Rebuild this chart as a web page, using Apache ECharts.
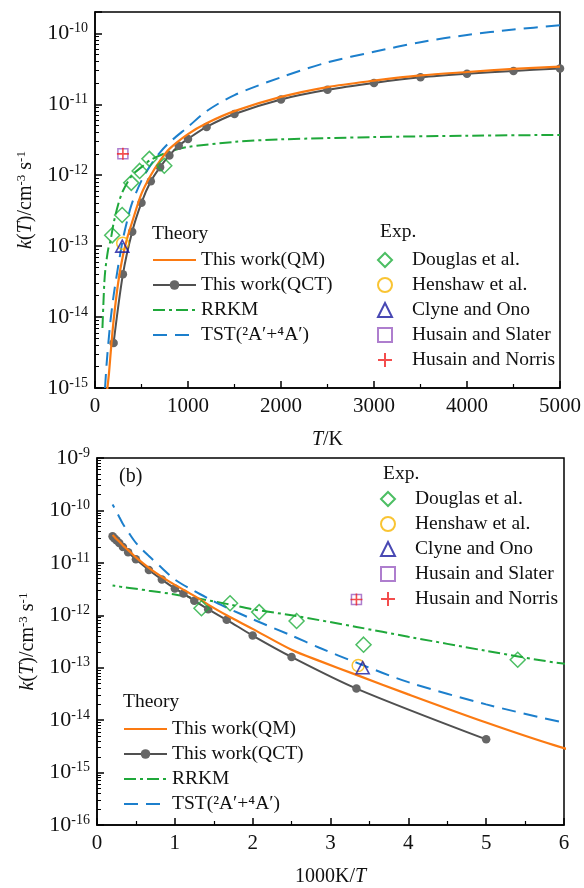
<!DOCTYPE html>
<html>
<head>
<meta charset="utf-8">
<script src="https://cdn.jsdelivr.net/npm/echarts@6/dist/echarts.min.js"></script>
<style>html,body{margin:0;padding:0;background:#fff;}#c{width:584px;height:888px;}</style>
</head>
<body>
<div id="c"></div>
<script>
// ---- data (T in K, k in cm^3 s^-1) ----
const T_QM  = [125,150,170,200,250,300,350,400,500,600,700,800,1000,1200,1500,2000,2500,3000,3500,4000,4500,5000];
const K_QM  = [8e-16,1.6e-15,3.3e-15,9.0e-15,3.1e-14,7.3e-14,1.35e-13,2.2e-13,5.5e-13,1.0e-12,1.6e-12,2.35e-12,3.8e-12,5.4e-12,8.0e-12,1.27e-11,1.75e-11,2.15e-11,2.55e-11,2.85e-11,3.15e-11,3.4e-11];
const T_QCT = [200,300,400,500,600,700,800,900,1000,1200,1500,2000,2500,3000,3500,4000,4500,5000];
const K_QCT = [4.3e-15,4.0e-14,1.6e-13,4.1e-13,8.2e-13,1.3e-12,1.9e-12,2.6e-12,3.25e-12,4.8e-12,7.3e-12,1.17e-11,1.6e-11,2.0e-11,2.4e-11,2.7e-11,2.95e-11,3.2e-11];
const T_RRKM = [80,90,100,110,125,145,167,200,250,300,400,500,600,800,1000,1500,2000,3000,4000,5000];
const K_RRKM = [7e-15,1.5e-14,3.0e-14,4.5e-14,6.5e-14,9.5e-14,1.2e-13,2.1e-13,3.9e-13,6.0e-13,1.0e-12,1.3e-12,1.65e-12,2.15e-12,2.5e-12,2.95e-12,3.2e-12,3.45e-12,3.6e-12,3.7e-12];
const T_TST = [108,125,145,167,200,250,300,350,400,500,600,700,800,1000,1200,1500,2000,2500,3000,3500,4000,4500,5000];
const K_TST = [1.0e-15,2.2e-15,4.5e-15,9.0e-15,2.0e-14,5.3e-14,1.25e-13,2.4e-13,4.1e-13,8.4e-13,1.4e-12,2.1e-12,2.9e-12,4.8e-12,8.0e-12,1.35e-11,2.4e-11,3.9e-11,5.5e-11,7.5e-11,9.5e-11,1.13e-10,1.3e-10];
const T_DOUGLAS = [185,292,390,480,585,745];
const K_DOUGLAS = [1.42e-13,2.75e-13,7.8e-13,1.15e-12,1.7e-12,1.36e-12];
const T_HENSHAW = [298], K_HENSHAW = [1.1e-13];
const T_CLYNE = [293],   K_CLYNE = [1.0e-13];
const T_SLATER = [300],  K_SLATER = [2.0e-12];
const T_NORRIS = [300],  K_NORRIS = [2.0e-12];

const X_TICKS_TOP = {min:0, max:5000, interval:1000};
const X_TICKS_BOT = {min:0, max:6, interval:1};
const Y_TOP = {min:1e-15, max:2e-10};
const Y_BOT = {min:1e-16, max:1e-9};

// ---- helpers ----
const FONT = 'Liberation Serif';
const pairsT = (T,K) => T.map((t,i)=>[t,K[i]]);
const pairsInv = (T,K) => T.map((t,i)=>[1000/t,K[i]]);

const C_QM='#fb7a12', C_QCT='#505050', C_RRKM='#1fa83a', C_TST='#1c7fcc';
const C_DOUG='#1fae3c', C_HEN='#f7b500', C_CLY='#1a1aa0', C_SLA='#9a5ec2', C_NOR='#f02020';

function seriesSet(gi, conv){
  return [
    {name:'This work(QM)', type:'line', xAxisIndex:gi, yAxisIndex:gi, data:conv(T_QM,K_QM), smooth:0.3, symbol:'none',
     lineStyle:{color:C_QM,width:2.2}, itemStyle:{color:C_QM}, z:5},
    {name:'This work(QCT)', type:'line', xAxisIndex:gi, yAxisIndex:gi, data:conv(T_QCT,K_QCT), smooth:0.3, symbol:'circle', symbolSize:8.5,
     lineStyle:{color:C_QCT,width:2}, itemStyle:{color:'#666'}, z:4},
    {name:'RRKM', type:'line', xAxisIndex:gi, yAxisIndex:gi, data:conv(T_RRKM,K_RRKM), smooth:0.3, symbol:'none',
     lineStyle:{color:C_RRKM,width:2,type:[12,4,3,4]}, itemStyle:{color:C_RRKM}, z:3},
    {name:'TST(²A′+⁴A′)', type:'line', xAxisIndex:gi, yAxisIndex:gi, data:conv(T_TST,K_TST), smooth:0.3, symbol:'none',
     lineStyle:{color:C_TST,width:2,type:[14,8]}, itemStyle:{color:C_TST}, z:3},
    {name:'Douglas et al.', type:'scatter', xAxisIndex:gi, yAxisIndex:gi, data:conv(T_DOUGLAS,K_DOUGLAS), symbol:'diamond', symbolSize:[15,15],
     itemStyle:{color:'rgba(0,0,0,0)', borderColor:C_DOUG, borderWidth:1.5}, z:6},
    {name:'Henshaw et al.', type:'scatter', xAxisIndex:gi, yAxisIndex:gi, data:conv(T_HENSHAW,K_HENSHAW), symbol:'circle', symbolSize:12,
     itemStyle:{color:'rgba(0,0,0,0)', borderColor:C_HEN, borderWidth:1.5}, z:6},
    {name:'Clyne and Ono', type:'scatter', xAxisIndex:gi, yAxisIndex:gi, data:conv(T_CLYNE,K_CLYNE), symbol:'triangle', symbolSize:[13,12],
     itemStyle:{color:'rgba(0,0,0,0)', borderColor:C_CLY, borderWidth:1.6}, z:7},
    {name:'Husain and Slater', type:'scatter', xAxisIndex:gi, yAxisIndex:gi, data:conv(T_SLATER,K_SLATER), symbol:'rect', symbolSize:10,
     itemStyle:{color:'rgba(0,0,0,0)', borderColor:C_SLA, borderWidth:1.5}, z:6},
    {name:'Husain and Norris', type:'scatter', xAxisIndex:gi, yAxisIndex:gi, data:conv(T_NORRIS,K_NORRIS), symbol:'path://M0,5L10,5M5,0L5,10', symbolSize:12,
     itemStyle:{color:'rgba(0,0,0,0)', borderColor:C_NOR, borderWidth:1.6}, z:7}
  ];
}

const richLbl = {
  n:{fontFamily:FONT, fontSize:22, color:'#111'},
  s:{fontFamily:FONT, fontSize:14, color:'#111', padding:[0,0,10,0]}
};
function powLabel(v){
  const lg = Math.log10(v), e = Math.round(lg);
  if (Math.abs(lg-e) > 0.01) return '';
  return '{n|10}{s|' + e + '}';
}
const yName = '{i|k}{n|(}{i|T}{n|)/cm}{s|-3}{n| s}{s|-1}';
const yNameRich = {
  n:{fontFamily:FONT, fontSize:20, color:'#111'},
  i:{fontFamily:FONT, fontSize:20, fontStyle:'italic', color:'#111'},
  s:{fontFamily:FONT, fontSize:13, color:'#111', padding:[0,0,9,0]}
};

function xAxis(gi, ticks, nameRich, nameStr, gap){
  return {type:'value', gridIndex:gi, min:ticks.min, max:ticks.max, interval:ticks.interval,
    axisLine:{show:true, onZero:false, lineStyle:{color:'#000', width:1.5}},
    axisTick:{show:true, inside:true, length:7, lineStyle:{color:'#000', width:1.5}},
    minorTick:{show:true, splitNumber:2, length:4, lineStyle:{color:'#000', width:1.2}},
    splitLine:{show:false},
    axisLabel:{fontFamily:FONT, fontSize:21, color:'#111', margin:8, formatter:v=>String(v)},
    name:nameStr, nameLocation:'middle', nameGap:gap, nameTextStyle:{rich:nameRich}};
}
function yAxis(gi, ext){
  return {type:'log', gridIndex:gi, logBase:10, min:ext.min, max:ext.max,
    axisLine:{show:true, onZero:false, lineStyle:{color:'#000', width:1.5}},
    axisTick:{show:true, inside:true, length:7, lineStyle:{color:'#000', width:1.5}},
    minorTick:{show:true, splitNumber:9, length:4, lineStyle:{color:'#000', width:1}},
    splitLine:{show:false},
    axisLabel:{formatter:powLabel, rich:richLbl, margin:7},
    name:yName, nameLocation:'middle', nameGap:58, nameRotate:90, nameTextStyle:{rich:yNameRich}};
}

const nameRichX = {
  n:{fontFamily:FONT, fontSize:20, color:'#111'},
  i:{fontFamily:FONT, fontSize:20, fontStyle:'italic', color:'#111'}
};

const hideSym = {color:'rgba(0,0,0,0)', borderColor:'rgba(0,0,0,0)', borderWidth:0};
const theoryData = [
  {name:'This work(QM)', itemStyle:hideSym},
  {name:'This work(QCT)'},
  {name:'RRKM', itemStyle:hideSym},
  {name:'TST(²A′+⁴A′)', itemStyle:hideSym}
];
const expNames = ['Douglas et al.','Henshaw et al.','Clyne and Ono','Husain and Slater','Husain and Norris'];

function legendTheory(left, top){
  return {orient:'vertical', left:left, top:top, itemWidth:43, itemHeight:12, itemGap:5, selectedMode:false,
    data:theoryData, textStyle:{fontFamily:FONT, fontSize:19.5, lineHeight:19, color:'#111'}, padding:0};
}
function legendExp(left, top){
  return {orient:'vertical', left:left, top:top, itemWidth:14, itemHeight:14, itemGap:5, selectedMode:false,
    data:expNames, textStyle:{fontFamily:FONT, fontSize:19.5, lineHeight:19, color:'#111', padding:[0,0,0,15]}, padding:0};
}

const chart = echarts.init(document.getElementById('c'), null, {renderer:'canvas'});
chart.setOption({
  animation:false,
  backgroundColor:'#fff',
  grid:[
    {left:95, top:12, width:467, height:376, show:true, borderColor:'#000', borderWidth:1.5, backgroundColor:'transparent'},
    {left:97, top:458, width:467, height:375, show:true, borderColor:'#000', borderWidth:1.5, backgroundColor:'transparent'}
  ],
  xAxis:[
    xAxis(0, X_TICKS_TOP, nameRichX, '{i|T}{n|/K}', 42),
    xAxis(1, X_TICKS_BOT, nameRichX, '{n|1000K/}{i|T}', 42)
  ],
  yAxis:[ yAxis(0, Y_TOP), yAxis(1, Y_BOT) ],
  legend:[
    legendTheory(152, 250),
    legendExp(377, 250),
    legendTheory(123, 719),
    legendExp(380, 489)
  ],
  graphic:[
    {type:'text', left:152, top:224, style:{text:'Theory', font:'19.5px "Liberation Serif"', fill:'#111'}},
    {type:'text', left:380, top:222, style:{text:'Exp.', font:'19.5px "Liberation Serif"', fill:'#111'}},
    {type:'text', left:383, top:464, style:{text:'Exp.', font:'19.5px "Liberation Serif"', fill:'#111'}},
    {type:'text', left:123, top:692, style:{text:'Theory', font:'19.5px "Liberation Serif"', fill:'#111'}},
    {type:'text', left:119, top:467, style:{text:'(b)', font:'20px "Liberation Serif"', fill:'#111'}}
  ],
  series: seriesSet(0, pairsT).concat(seriesSet(1, pairsInv))
});
</script>
</body>
</html>
